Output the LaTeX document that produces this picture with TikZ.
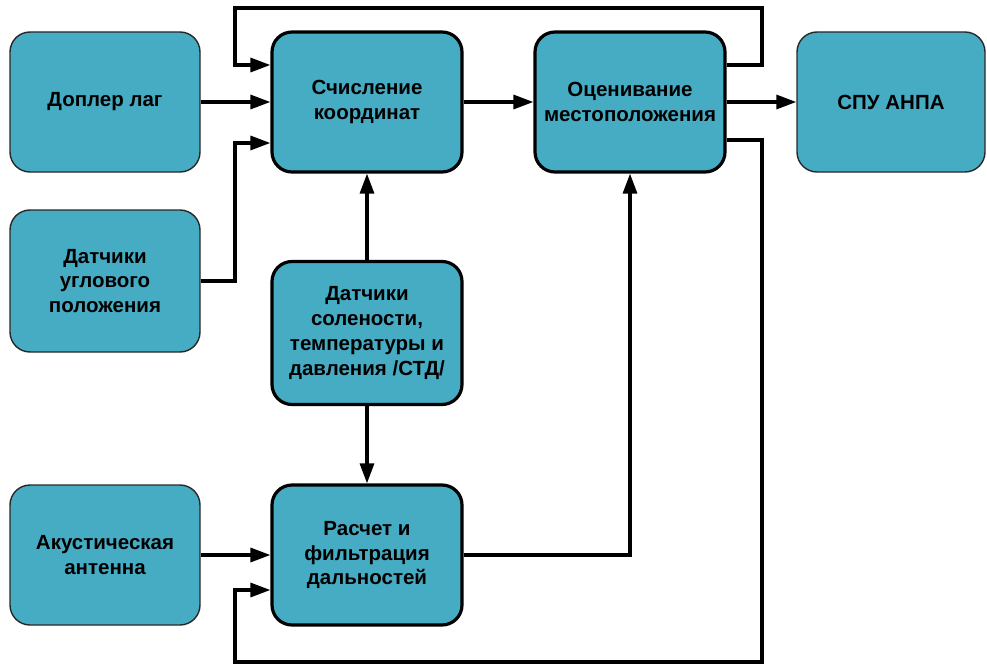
\documentclass[tikz,border=0pt]{standalone}
\usepackage{fontspec}
\setmainfont{Liberation Sans}
\usetikzlibrary{arrows.meta}
\definecolor{boxfill}{RGB}{70,172,196}
\definecolor{thinedge}{RGB}{40,40,40}
\begin{document}
\begin{tikzpicture}[x=1pt,y=-1pt,
  base/.style={rectangle, rounded corners=20pt, fill=boxfill, minimum width=190pt, minimum height=140pt,
    align=center, font=\fontsize{20.5}{24.8}\selectfont\bfseries, text=black, inner sep=2pt},
  outbox/.style={base, draw=thinedge, line width=1.4pt},
  corebox/.style={base, draw=black, line width=3.2pt},
  arr/.style={line width=3.2pt, -{Triangle[length=20pt,width=14pt]}},
  ln/.style={line width=3.2pt}]
\useasboundingbox (0,0) rectangle (987,666);
\node[outbox] (dop) at (105,102) {Доплер лаг};
\node[outbox, minimum height=142pt] (ugl) at (105,281) {Датчики\\углового\\положения};
\node[outbox] (aku) at (105,555) {Акустическая\\антенна};
\node[corebox] (sch) at (367,102) {Счисление\\координат};
\node[corebox, minimum height=143pt] (std) at (367,333) {Датчики\\солености,\\температуры и\\давления /СТД/};
\node[corebox] (ras) at (367,555) {Расчет и\\фильтрация\\дальностей};
\node[corebox] (ots) at (630,102) {Оценивание\\местоположения};
\node[outbox, minimum width=188pt] (spu) at (891,102) {СПУ АНПА};
\draw[arr] (dop.east) -- (sch.west);
\draw[arr] (ugl.east) -| (235,281) |- ([yshift=-41pt]sch.west);
\draw[arr] ([yshift=37pt]ots.east) -| (762,8) -| (235,65) -- ([yshift=37pt]sch.west);
\draw[arr] (sch.east) -- (ots.west);
\draw[arr] (ots.east) -- (spu.west);
\draw[arr] ([yshift=-38pt]ots.east) -| (762,662) -| (235,590) -- ([yshift=-35pt]ras.west);
\draw[arr] (std.north) -- (sch.south);
\draw[arr] (std.south) -- (ras.north);
\draw[arr] (aku.east) -- (ras.west);
\draw[arr] (ras.east) -| (ots.south);
\end{tikzpicture}
\end{document}
